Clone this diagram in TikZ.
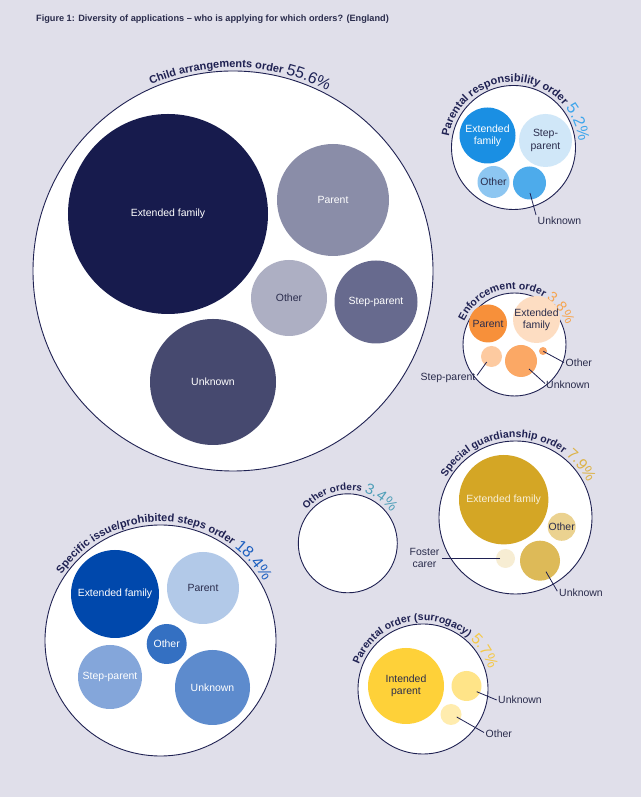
\documentclass[tikz,border=0pt]{standalone}
\usepackage{fontspec}
\setmainfont{Liberation Sans}
\definecolor{bg}{HTML}{E0DFEA}
\definecolor{navy}{HTML}{1F2152}
\definecolor{ink}{HTML}{2A2C4C}
\definecolor{cream}{HTML}{F8F0DA}
\definecolor{caA}{HTML}{171B4D}\definecolor{caP}{HTML}{8A8DA8}\definecolor{caO}{HTML}{ADAFC3}
\definecolor{caS}{HTML}{676A8E}\definecolor{caU}{HTML}{46496F}\definecolor{caPct}{HTML}{1D2255}
\definecolor{prA}{HTML}{1A8FE3}\definecolor{prS}{HTML}{D0E7F8}\definecolor{prO}{HTML}{8DC6F1}
\definecolor{prU}{HTML}{4DABEB}\definecolor{prPct}{HTML}{3EA6EC}
\definecolor{enP}{HTML}{F7903A}\definecolor{enA}{HTML}{FDDDC2}\definecolor{enS}{HTML}{FDCAA0}
\definecolor{enU}{HTML}{FBA865}\definecolor{enO}{HTML}{F9A565}\definecolor{enPct}{HTML}{F6A550}
\definecolor{sgA}{HTML}{D4A625}\definecolor{sgO}{HTML}{EBD290}\definecolor{sgF}{HTML}{F7EDD3}
\definecolor{sgU}{HTML}{DDBA58}\definecolor{sgPct}{HTML}{DDB348}
\definecolor{ooPct}{HTML}{4F9FB8}
\definecolor{siA}{HTML}{0048AC}\definecolor{siP}{HTML}{B2C9E8}\definecolor{siO}{HTML}{3470C2}
\definecolor{siS}{HTML}{84A6DA}\definecolor{siU}{HTML}{5D8BCD}\definecolor{siPct}{HTML}{1E60C0}
\definecolor{poI}{HTML}{FED139}\definecolor{poU}{HTML}{FFE488}\definecolor{poO}{HTML}{FFECAE}
\definecolor{poPct}{HTML}{F5C846}
\newcommand\lbf{\fontsize{10.5}{12.3}\selectfont}
% primitive fonts for the curved titles
\font\arcnA="Liberation Sans/B" at 10bp
\font\arcnB="Liberation Sans/B" at 10.5bp
\font\arcnC="Liberation Sans/B" at 11bp
\font\arcpA="Liberation Sans" at 14.5bp
\font\arcpB="Liberation Sans" at 15bp
\font\arcpC="Liberation Sans" at 15.5bp
\font\arcpD="Liberation Sans" at 16bp
% ---- text on an arc, placed character by character ----
\newdimen\chw
\newdimen\arcposd
\newcounter{chc}
\newif\ifarcplace
\def\arcstop{ARCSTOP}\def\asp{ARCSPACE}\def\arcswitch{ARCSWITCH}
\long\def\agobble#1{}\long\def\afirst#1{#1}
\def\arcchars#1{\ifx#1\arcstop\expandafter\agobble\else\expandafter\afirst\fi{\arcdo{#1}\arcchars}}
\def\arcdo#1{%
  \def\arcnext{\arcone{#1}}%
  \ifx#1\asp\def\arcnext{\arcspace}\fi
  \ifx#1\arcswitch\def\arcnext{\let\arcfont\arcpctfont\let\arccol\arcpctcol}\fi
  \arcnext}
\def\arcspace{\setbox0=\hbox{\arcfont\ }\global\advance\arcposd by \wd0 }
\def\arcone#1{%
  \setbox0=\hbox{\arcfont #1}\chw=\wd0
  \ifarcplace\def\arcnext{\arcput{#1}}\else\def\arcnext{}\fi
  \arcnext
  \global\advance\arcposd by \chw}
\def\arcput#1{%
  \pgfmathsetmacro\ang{\arcstart-(\the\arcposd+0.5*\the\chw)/\arcRpt*57.29578}%
  \pgfmathsetmacro\px{\arcx+\arcR*cos(\ang)}%
  \pgfmathsetmacro\py{\arcy+\arcR*sin(\ang)}%
  \stepcounter{chc}%
  \node[inner sep=0pt,outer sep=0pt,anchor=base,rotate=\ang-90,text=\arccol,font=\arcfont] (ch\arabic{chc}) at (\px,\py) {#1};}
\newcommand\arclab[7]{%
  \def\arcx{#1}\def\arcy{#2}\def\arcR{#3}%
  \pgfmathsetmacro\arcRpt{#3*1.00375}%
  \def\arcnamefont{#4}\def\arcpctfont{#5}\def\arcpctcol{#6}%
  \arcplacefalse\global\arcposd=0pt \let\arcfont\arcnamefont\def\arccol{navy}%
  \arcchars#7\arcstop
  \pgfmathsetmacro\arcstart{88+0.5*\the\arcposd/\arcRpt*57.29578}%
  \arcplacetrue\global\arcposd=0pt \let\arcfont\arcnamefont\def\arccol{navy}%
  \arcchars#7\arcstop}
\begin{document}
\begin{tikzpicture}[x=1bp,y=1bp,
  outer/.style={circle,draw=navy,line width=0.9bp,fill=white,inner sep=0pt},
  blob/.style={circle,inner sep=0pt},
  rad/.style={minimum size={2*#1bp}},
  lab/.style={inner sep=0pt,font=\lbf,align=center,text=ink},
  leader/.style={draw=navy,line width=0.8bp}]
\fill[bg] (0,0) rectangle (641,797);
\useasboundingbox (0,0) rectangle (641,797);

\node[anchor=base west,inner sep=0pt,text=ink,font=\fontsize{9.2}{10}\selectfont\bfseries] (title) at (36,775.5)
  {Figure 1: Diversity of applications – who is applying for which orders? (England)};

% ---------- Child arrangements order ----------
\node[outer,rad=200] (ca) at (233,526) {};
\arclab{233}{526}{203.5}{\arcnC}{\arcpD}{caPct}{Child\asp arrangements\asp order\asp\arcswitch 55.6\%}
\node[blob,rad=100,fill=caA] (ca-ext) at (168,583) {};
\node[lab,text=white] (ca-ext-t) at (ca-ext) {Extended family};
\node[blob,rad=56,fill=caP] (ca-par) at (333,597) {};
\node[lab,text=white] (ca-par-t) at (ca-par) {Parent};
\node[blob,rad=38,fill=caO] (ca-oth) at (289,499) {};
\node[lab] (ca-oth-t) at (ca-oth) {Other};
\node[blob,rad=41.5,fill=caS] (ca-stp) at (376,495) {};
\node[lab,text=white] (ca-stp-t) at (ca-stp) {Step-parent};
\node[blob,rad=63,fill=caU] (ca-unk) at (213,415) {};
\node[lab,text=white] (ca-unk-t) at (ca-unk) {Unknown};

% ---------- Parental responsibility order ----------
\node[outer,rad=62] (pr) at (513.5,649.5) {};
\arclab{513.5}{649.5}{65.5}{\arcnC}{\arcpD}{prPct}{Parental\asp responsibility\asp order\asp\arcswitch 5.2\%}
\node[blob,rad=28,fill=prA] (pr-ext) at (487.5,661.5) {};
\node[lab,text=white] (pr-ext-t) at (pr-ext) {Extended\\family};
\node[blob,rad=26.5,fill=prS] (pr-stp) at (545.5,656.5) {};
\node[lab] (pr-stp-t) at (pr-stp) {Step-\\parent};
\node[blob,rad=16,fill=prO] (pr-oth) at (493.5,615) {};
\node[lab] (pr-oth-t) at (pr-oth) {Other};
\node[blob,rad=16.5,fill=prU] (pr-unk) at (529.5,614) {};
\coordinate (pr-unk-a) at (530,604);
\coordinate (pr-unk-b) at (536,582);
\node[lab,anchor=west] (pr-unk-t) at (537.5,576.3) {Unknown};
\draw[leader] (pr-unk-a) -- (pr-unk-b);

% ---------- Enforcement order ----------
\node[outer,rad=51.5] (en) at (514.5,452.5) {};
\arclab{514.5}{452.5}{55.5}{\arcnB}{\arcpA}{enPct}{Enforcement\asp order\asp\arcswitch 3.8\%}
\node[blob,rad=19,fill=enP] (en-par) at (488,473.5) {};
\node[lab] (en-par-t) at (en-par) {Parent};
\node[blob,rad=23.5,fill=enA] (en-ext) at (536.5,477.5) {};
\node[lab] (en-ext-t) at (en-ext) {Extended\\family};
\node[blob,rad=10.5,fill=enS] (en-stp) at (491.5,440.5) {};
\node[blob,rad=16,fill=enU] (en-unk) at (521,436) {};
\node[blob,rad=4,fill=enO] (en-oth) at (543,446) {};
\coordinate (en-stp-a) at (486.7,435);
\coordinate (en-stp-b) at (477,421.5);
\node[lab,anchor=east] (en-stp-t) at (475.5,419.5) {Step-parent};
\coordinate (en-unk-a) at (529,428);
\coordinate (en-unk-b) at (545,413.5);
\node[lab,anchor=west] (en-unk-t) at (546,412) {Unknown};
\coordinate (en-oth-a) at (543.3,445.7);
\coordinate (en-oth-b) at (564,434.5);
\node[lab,anchor=west] (en-oth-t) at (565.5,434) {Other};
\draw[leader] (en-stp-a) -- (en-stp-b);
\draw[leader] (en-unk-a) -- (en-unk-b);
\draw[leader] (en-oth-a) -- (en-oth-b);

% ---------- Special guardianship order ----------
\node[outer,rad=76.5] (sg) at (515.5,279.5) {};
\arclab{515.5}{279.5}{80}{\arcnB}{\arcpC}{sgPct}{Special\asp guardianship\asp order\asp\arcswitch 7.9\%}
\node[blob,rad=44.7,fill=sgA] (sg-ext) at (503.7,297.3) {};
\node[lab,text=cream] (sg-ext-t) at (sg-ext) {Extended family};
\node[blob,rad=14,fill=sgO] (sg-oth) at (561.7,270.2) {};
\node[lab] (sg-oth-t) at (sg-oth) {Other};
\node[blob,rad=9.5,fill=sgF] (sg-fos) at (505.5,238.5) {};
\node[blob,rad=20,fill=sgU] (sg-unk) at (540,236.3) {};
\coordinate (sg-fos-a) at (500,238.7);
\coordinate (sg-fos-b) at (441.5,238.7);
\node[lab,anchor=east] (sg-fos-t) at (439.5,238.7) {Foster\\carer};
\coordinate (sg-unk-a) at (546,225.3);
\coordinate (sg-unk-b) at (557.3,205.8);
\node[lab,anchor=west] (sg-unk-t) at (559,204.3) {Unknown};
\draw[leader] (sg-fos-a) -- (sg-fos-b);
\draw[leader] (sg-unk-a) -- (sg-unk-b);

% ---------- Other orders ----------
\node[outer,rad=49.5] (oo) at (347.8,253.7) {};
\arclab{347.8}{253.7}{53}{\arcnA}{\arcpB}{ooPct}{Other\asp orders\asp\arcswitch 3.4\%}

% ---------- Specific issue / prohibited steps order ----------
\node[outer,rad=115.5] (si) at (160.5,156.5) {};
\arclab{160.5}{156.5}{119}{\arcnC}{\arcpD}{siPct}{Specific\asp issue/prohibited\asp steps\asp order\asp\arcswitch 18.4\%}
\node[blob,rad=44,fill=siA] (si-ext) at (115,203) {};
\node[lab,text=white] (si-ext-t) at (si-ext) {Extended family};
\node[blob,rad=36,fill=siP] (si-par) at (203,209) {};
\node[lab] (si-par-t) at (si-par) {Parent};
\node[blob,rad=20,fill=siO] (si-oth) at (166.7,153) {};
\node[lab,text=white] (si-oth-t) at (si-oth) {Other};
\node[blob,rad=32,fill=siS] (si-stp) at (110,120) {};
\node[lab,text=white] (si-stp-t) at (si-stp) {Step-parent};
\node[blob,rad=37.5,fill=siU] (si-unk) at (212.5,109.5) {};
\node[lab,text=white] (si-unk-t) at (si-unk) {Unknown};

% ---------- Parental order (surrogacy) ----------
\node[outer,rad=65] (po) at (423,108) {};
\arclab{423}{108}{68.5}{\arcnB}{\arcpC}{poPct}{Parental\asp order\asp (surrogacy)\asp\arcswitch 5.7\%}
\node[blob,rad=38,fill=poI] (po-int) at (406,111) {};
\node[lab] (po-int-t) at (po-int) {Intended\\parent};
\node[blob,rad=15,fill=poU] (po-unk) at (466.5,111) {};
\node[blob,rad=10.5,fill=poO] (po-oth) at (451,82.5) {};
\coordinate (po-unk-a) at (476.7,105.3);
\coordinate (po-unk-b) at (496.7,97);
\node[lab,anchor=west] (po-unk-t) at (498,97) {Unknown};
\coordinate (po-oth-a) at (456.7,80);
\coordinate (po-oth-b) at (484,64.5);
\node[lab,anchor=west] (po-oth-t) at (485.5,63.5) {Other};
\draw[leader] (po-unk-a) -- (po-unk-b);
\draw[leader] (po-oth-a) -- (po-oth-b);
\end{tikzpicture}
\end{document}
